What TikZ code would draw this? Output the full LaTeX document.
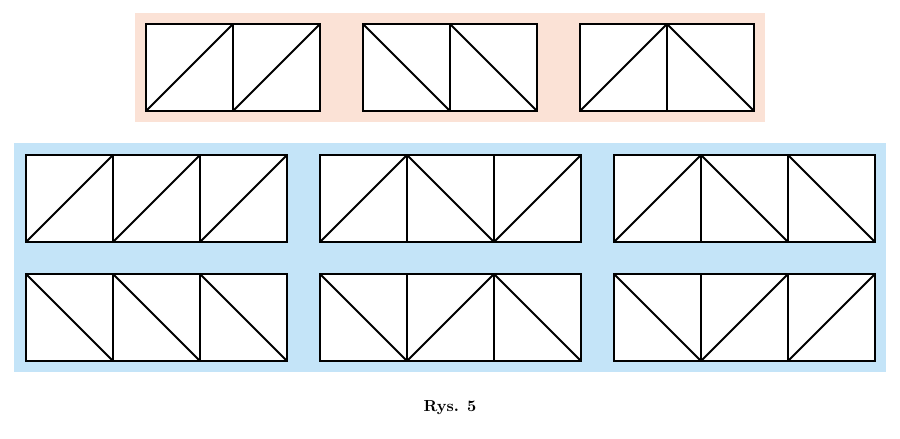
\documentclass[tikz,border=0pt]{standalone}
\usepackage{fontspec}
\begin{document}
\begin{tikzpicture}[x=1pt,y=-1pt,line width=1.8pt,line join=miter]
\definecolor{pinkbg}{RGB}{251,226,214}
\definecolor{bluebg}{RGB}{196,228,248}
\useasboundingbox (0,0) rectangle (900,439);
\fill[pinkbg] (135,13) rectangle (765,122);
\fill[bluebg] (14,143) rectangle (886,372);
% #1 x, #2 top y, #3 list of i/d (d=1: up "/", d=0: down "\")
\newcommand\trussfig[3]{%
  \foreach \d [count=\i from 0] in {#3} {
    \pgfmathsetmacro\xa{#1+87*\i}
    \pgfmathsetmacro\xb{#1+87*(\i+1)}
    \draw[fill=white] (\xa,#2) rectangle (\xb,#2+87);
    \ifnum\d=1 \draw (\xa,#2+87) -- (\xb,#2); \else \draw (\xa,#2) -- (\xb,#2+87); \fi
  }}
\trussfig{146}{24}{1,1}
\trussfig{363}{24}{0,0}
\trussfig{580}{24}{1,0}
\trussfig{26}{155}{1,1,1}
\trussfig{320}{155}{1,0,1}
\trussfig{614}{155}{1,0,0}
\trussfig{26}{274}{0,0,0}
\trussfig{320}{274}{0,1,0}
\trussfig{614}{274}{0,1,1}
\node[font=\bfseries, scale=1.6] (cap) at (450,408) {Rys. 5};
\end{tikzpicture}
\end{document}
